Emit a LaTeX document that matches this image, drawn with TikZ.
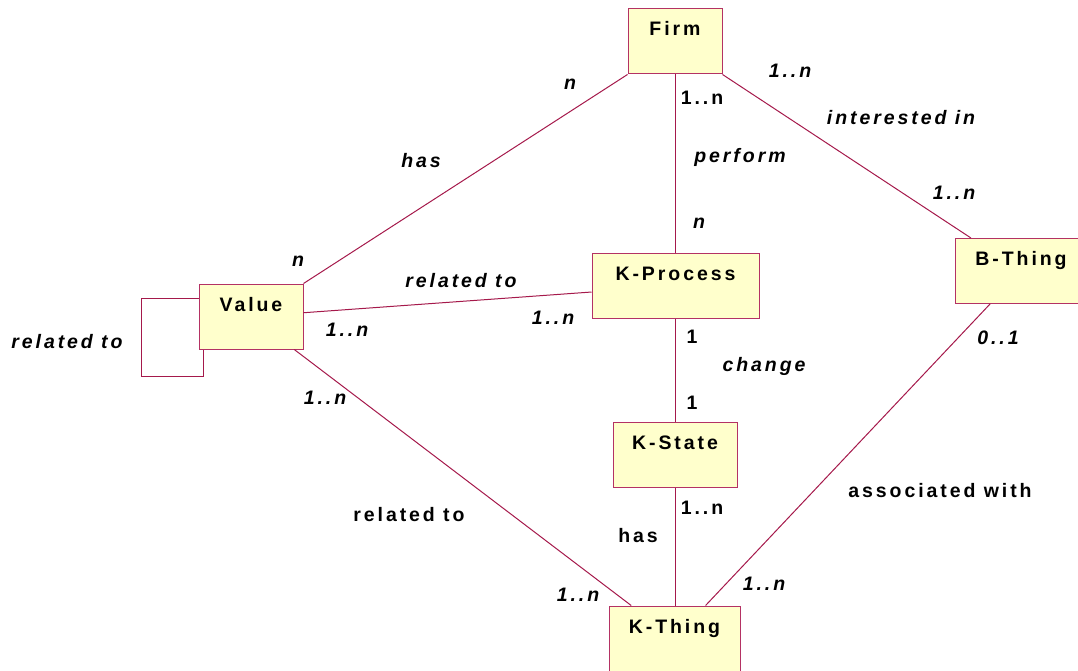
\documentclass[tikz,border=0pt]{standalone}
\usepackage{fontspec}
\setmainfont[LetterSpace=15]{Liberation Sans}
\definecolor{assocred}{RGB}{165,25,75}
\definecolor{boxedge}{RGB}{180,50,100}
\definecolor{boxfill}{RGB}{255,255,204}
\tikzset{
  entity/.style={draw=boxedge, fill=boxfill, line width=1pt, inner sep=0pt,
    text height=27pt, text depth=38pt, font=\fontsize{19.5}{21}\selectfont\bfseries},
  assoc/.style={draw=assocred, line width=1pt},
  lbl/.style={inner sep=0pt, font=\fontsize{19.5}{21}\selectfont\bfseries},
  ilbl/.style={inner sep=0pt, font=\fontsize{19.5}{21}\selectfont\bfseries\itshape}
}
\begin{document}
\begin{tikzpicture}[x=1pt,y=-1pt]
\useasboundingbox (0,0) rectangle (1078,671);
%classes
\node (firm) at (675,41.5) [entity,minimum width=94pt] {Firm};
\node (kprocess) at (675.5,286) [entity,minimum width=167pt] {K-Process};
\node (bthing) at (1021,271) [entity,minimum width=132pt] {B-Thing};
\node (value) at (251,316.5) [entity,minimum width=104pt] {Value};
\node (kstate) at (675,454.5) [entity,minimum width=124pt] {K-State};
\node (kthing) at (674.5,638.5) [entity,minimum width=131pt] {K-Thing};

%associations
\draw[assoc] (firm.south west) -- (value.north east);
\draw[assoc] (firm.south east) -- (bthing);
\draw[assoc] (firm.south) -- (firm.south |- kprocess.north);
\draw[assoc] (value) -- (kprocess);
\draw[assoc] (value) -- (kthing);
\draw[assoc] (bthing) -- (kthing);
\draw[assoc] (kprocess.south) -- (kprocess.south |- kstate.north);
\draw[assoc] (kstate.south) -- (kstate.south |- kthing.north);
\draw[assoc] ([yshift=-15pt]value.north west) -| ++(-57,78) -| ([xshift=5pt]value.south west);

%multiplicities and roles
\node (m1) at (570,84) [ilbl] {n};
\node (r1) at (421,161) [ilbl] {has};
\node (m2) at (790,71) [ilbl] {1..n};
\node (m3) at (702,98) [lbl] {1..n};
\node (r2) at (901,118) [ilbl] {interested in};
\node (r3) at (740,157) [ilbl] {perform};
\node (m4) at (954,193) [ilbl] {1..n};
\node (m5) at (699,223) [ilbl] {n};
\node (m6) at (298,261) [ilbl] {n};
\node (r4) at (461,281) [ilbl] {related to};
\node (m7) at (347,330) [ilbl] {1..n};
\node (m8) at (553,318) [ilbl] {1..n};
\node (r5) at (67,342) [ilbl] {related to};
\node (m9) at (692,337) [lbl] {1};
\node (r6) at (764,366) [ilbl] {change};
\node (m10) at (692,403) [lbl] {1};
\node (m11) at (998,338) [ilbl] {0..1};
\node (m12) at (325,398) [ilbl] {1..n};
\node (r7) at (409,515) [lbl] {related to};
\node (r8) at (638,536) [lbl] {has};
\node (m13) at (702,508) [lbl] {1..n};
\node (r9) at (940,491) [lbl] {associated with};
\node (m14) at (578,595) [ilbl] {1..n};
\node (m15) at (764,584) [ilbl] {1..n};
\end{tikzpicture}
\end{document}
